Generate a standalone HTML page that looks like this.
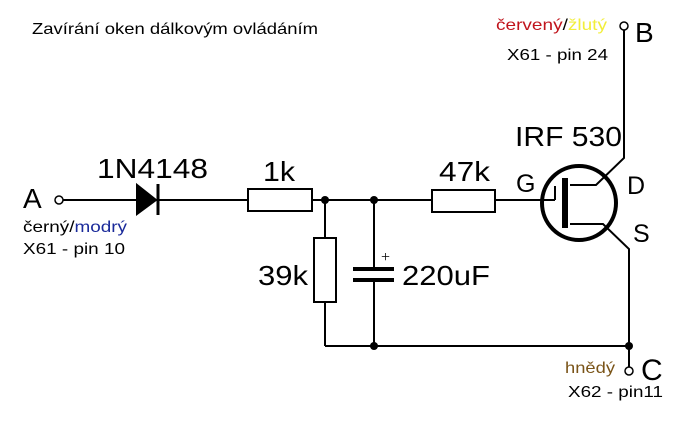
<!DOCTYPE html>
<html><head><meta charset="utf-8"><style>
html,body{margin:0;padding:0;background:#fff;}
svg{display:block;font-family:"Liberation Sans",Arial,sans-serif;}
</style></head><body>
<svg width="692" height="427" viewBox="0 0 692 427" xmlns="http://www.w3.org/2000/svg">
<rect width="692" height="427" fill="#fff"/>
<text x="32" y="34" font-size="16" textLength="286" lengthAdjust="spacingAndGlyphs">Zavírání oken dálkovým ovládáním</text>
<g stroke="#000" stroke-width="2" fill="none">
<line x1="63" y1="200" x2="248" y2="200"/>
<line x1="312" y1="200" x2="432" y2="200"/>
<line x1="495" y1="200" x2="555" y2="200"/>
<circle cx="59" cy="200" r="4" stroke-width="1.5" fill="#fff"/>
<polygon points="137,185 137,214 156,200" fill="#000"/>
<line x1="158" y1="184" x2="158" y2="215" stroke-width="3"/>
<rect x="248" y="189" width="64" height="22" fill="#fff"/>
<rect x="432" y="190" width="63" height="22" fill="#fff"/>
<rect x="314" y="238" width="22" height="64" fill="#fff"/>
<line x1="325" y1="200" x2="325" y2="238"/>
<line x1="325" y1="302" x2="325" y2="346"/>
<line x1="374" y1="200" x2="374" y2="269"/>
<line x1="374" y1="280" x2="374" y2="346"/>
<line x1="353" y1="269" x2="394" y2="269" stroke-width="4"/>
<line x1="353" y1="280" x2="394" y2="280" stroke-width="4"/>
<line x1="325" y1="346" x2="629" y2="346"/>
<circle cx="579" cy="203" r="37" stroke-width="4"/>
<line x1="555" y1="200" x2="555" y2="186"/>
<line x1="565" y1="178" x2="565" y2="228" stroke-width="6"/>
<polyline points="570,185 596,185 624,158 624,30"/>
<polyline points="570,224 603,224 629,249 629,367"/>
<circle cx="624" cy="26" r="4" stroke-width="1.5" fill="#fff"/>
<circle cx="629" cy="371" r="4" stroke-width="1.5" fill="#fff"/>
</g>
<g fill="#000">
<circle cx="325" cy="200" r="4"/><circle cx="374" cy="200" r="4"/>
<circle cx="374" cy="346" r="4"/><circle cx="629" cy="346" r="4"/>
</g>
<text x="381" y="262" font-size="16" font-family="Liberation Serif,serif">+</text>
<g font-size="28">
<text x="23" y="208">A</text>
<text x="97" y="178" textLength="111" lengthAdjust="spacingAndGlyphs">1N4148</text>
<text x="263" y="181" textLength="32" lengthAdjust="spacingAndGlyphs">1k</text>
<text x="439" y="181" textLength="51" lengthAdjust="spacingAndGlyphs">47k</text>
<text x="258" y="285" textLength="50" lengthAdjust="spacingAndGlyphs">39k</text>
<text x="402" y="285" textLength="88" lengthAdjust="spacingAndGlyphs">220uF</text>
<text x="515" y="146" textLength="107" lengthAdjust="spacingAndGlyphs">IRF 530</text>
<text x="516" y="192" font-size="25">G</text>
<text x="627" y="194" font-size="25">D</text>
<text x="633" y="242" font-size="25">S</text>
<text x="635" y="42">B</text>
<text x="641" y="380" font-size="30">C</text>
</g>
<g font-size="16">
<text x="23" y="232" textLength="104" lengthAdjust="spacingAndGlyphs">černý/<tspan fill="#1a2a9a">modrý</tspan></text>
<text x="23" y="254" textLength="102" lengthAdjust="spacingAndGlyphs">X61 - pin 10</text>
<text x="496" y="30" textLength="111" lengthAdjust="spacingAndGlyphs"><tspan fill="#c0141c">červený</tspan>/<tspan fill="#f2ee3a">žlutý</tspan></text>
<text x="507" y="60" textLength="101" lengthAdjust="spacingAndGlyphs">X61 - pin 24</text>
<text x="565" y="373" fill="#7a5418" textLength="50" lengthAdjust="spacingAndGlyphs">hnědý</text>
<text x="568" y="397" textLength="95" lengthAdjust="spacingAndGlyphs">X62 - pin11</text>
</g>
</svg>
</body></html>
